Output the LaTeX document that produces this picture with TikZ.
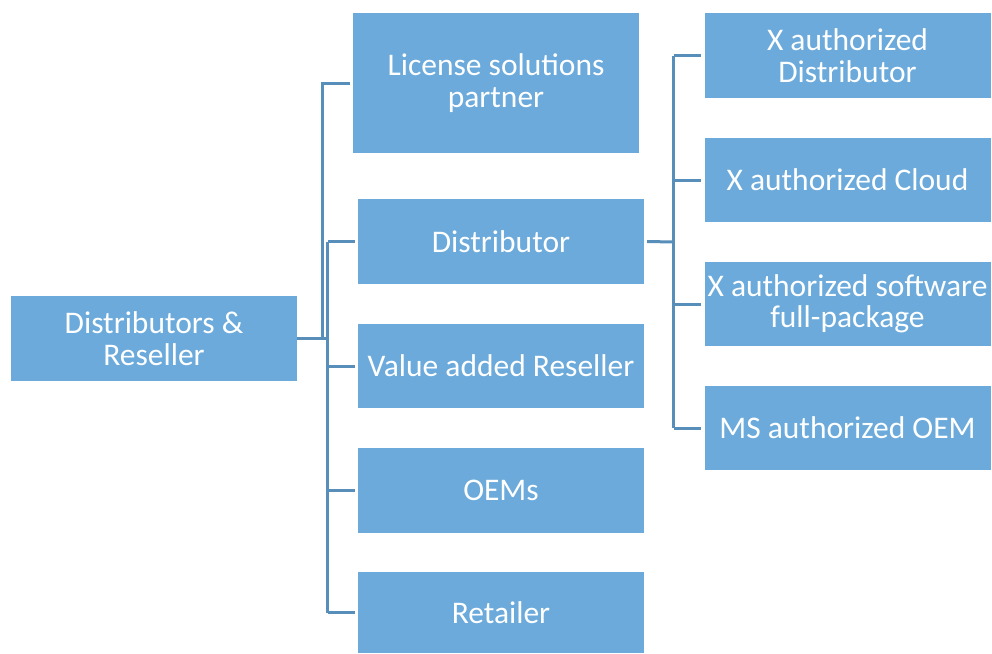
\documentclass[tikz,border=0pt]{standalone}
\usepackage{fontspec}
\setmainfont{Carlito}
\definecolor{boxblue}{RGB}{107,170,219}
\definecolor{lineblue}{RGB}{88,142,186}
\begin{document}
\begin{tikzpicture}[x=1pt,y=-1pt,
  box/.style={fill=boxblue,draw=none,minimum width=286pt,minimum height=85pt,inner sep=0pt,
    align=center,text=white,font=\fontsize{31.5}{31.5}\selectfont},
  conn/.style={draw=lineblue,line width=3pt}]
\useasboundingbox (0,0) rectangle (992,653);
\node[box] (root) at (154,338.5) {Distributors \&\\Reseller};
\node[box,minimum height=140pt] (lic) at (496,83) {License solutions\\partner};
\node[box] (dist) at (501,241.5) {Distributor};
\node[box,minimum height=84pt] (var) at (501,366) {Value added Reseller};
\node[box] (oem) at (501,490.5) {OEMs};
\node[box,minimum height=81pt] (ret) at (501,612.5) {Retailer};
\node[box] (xd) at (847.5,55.5) {X authorized\\Distributor};
\node[box,minimum height=84pt] (xc) at (847.5,180) {X authorized Cloud};
\node[box,minimum height=84pt] (xs) at (847.5,304) {X authorized software\\full-package};
\node[box,minimum height=84pt] (ms) at (847.5,428) {MS authorized OEM};
\coordinate (j1) at (322.5,338);
\coordinate (j2) at (327.5,338);
\coordinate (j3) at (673.5,242);
% root to license
\draw[conn] (root.east |- j1) -- (j2);
\draw[conn] (j1) |- ([xshift=-3pt]lic.west);
% root to lower children
\draw[conn] (j2 |- dist) -- (j2 |- ret);
\foreach \n in {dist,var,oem,ret}{
  \draw[conn] (j2 |- \n) -- ([xshift=-3pt]\n.west);
}
% distributor to right column
\draw[conn] ([xshift=3pt]dist.east) -- (j3);
\draw[conn] (j3 |- xd) -- (j3 |- ms);
\foreach \n in {xd,xc,xs,ms}{
  \draw[conn] (j3 |- \n) -- ([xshift=-3pt]\n.west);
}
\end{tikzpicture}
\end{document}
